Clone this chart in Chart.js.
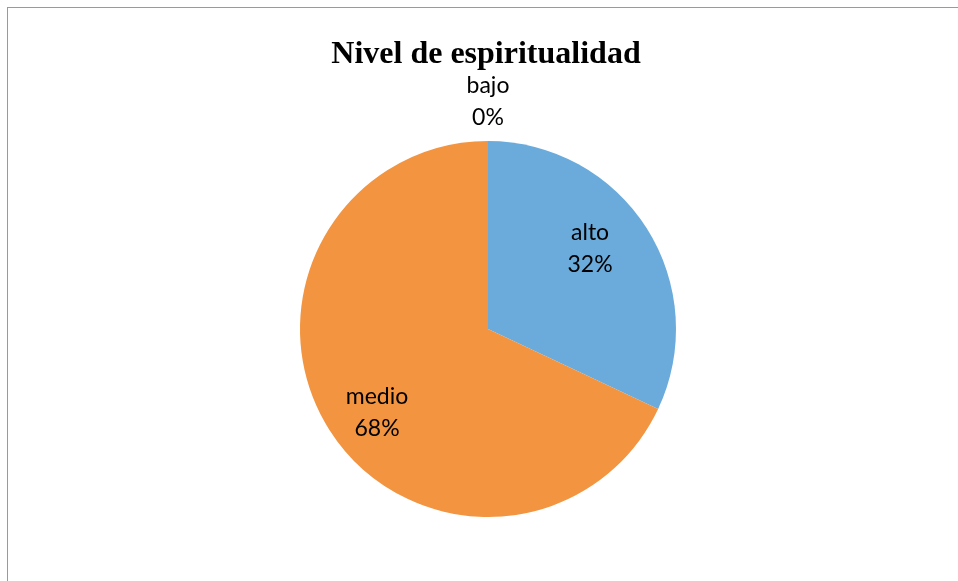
<html>
<head>
<script src="https://cdn.jsdelivr.net/npm/chart.js"></script>
<style>
  html, body { margin: 0; padding: 0; background: #fff; overflow: hidden; }
  #wrap { width: 958px; height: 581px; position: relative; }
</style>
</head>
<body>
<div id="wrap"><canvas id="chart1"></canvas></div>
<script>
var titleText = 'Nivel de espiritualidad';
var categories = ['alto', 'medio', 'bajo'];
var values = [32, 68, 0];
var colors = ['#6aabdc', '#f29440', '#a5a5a5'];

// where each label block sits: fraction of radius and angle shift from the slice middle (degrees)
var labelPlace = [
  { r: 0.69, shift: -5.7 },
  { r: 0.74, shift: -4.7 },
  { r: 1.21, shift: 0 }
];

var decorations = {
  id: 'decorations',
  afterDraw: function(chart) {
    var ctx = chart.ctx;
    ctx.save();
    // outer frame (runs off the right and bottom)
    ctx.strokeStyle = '#9a9a9a';
    ctx.lineWidth = 1;
    ctx.strokeRect(7.5, 7.5, 1200, 1200);

    ctx.fillStyle = '#000';
    ctx.textAlign = 'center';
    ctx.textBaseline = 'middle';
    ctx.font = 'bold 32px "Liberation Serif", "Times New Roman", serif';
    ctx.fillText(titleText, 486, 55);

    var meta = chart.getDatasetMeta(0);
    var total = values.reduce(function(a, b) { return a + b; }, 0);
    ctx.font = '23px Lato, "Open Sans", sans-serif';
    meta.data.forEach(function(arc, i) {
      var p = arc.getProps(['x', 'y', 'startAngle', 'endAngle', 'outerRadius'], true);
      var mid = (p.startAngle + p.endAngle) / 2 + labelPlace[i].shift * Math.PI / 180;
      var rr = p.outerRadius * labelPlace[i].r;
      var cx = p.x + Math.cos(mid) * rr;
      var cy = p.y + Math.sin(mid) * rr;
      var pct = Math.round(values[i] / total * 100) + '%';
      ctx.fillText(categories[i], cx, cy - 16);
      ctx.fillText(pct, cx, cy + 16);
    });
    ctx.restore();
  }
};

new Chart('chart1', {
  type: 'pie',
  data: {
    labels: categories,
    datasets: [{
      data: values,
      backgroundColor: colors,
      borderWidth: 0
    }]
  },
  options: {
    responsive: true,
    maintainAspectRatio: false,
    animation: false,
    layout: { padding: { top: 141, bottom: 64, left: 18, right: 0 } },
    plugins: {
      legend: { display: false },
      title: { display: false },
      tooltip: { enabled: false }
    }
  },
  plugins: [decorations]
});
</script>
</body>
</html>
